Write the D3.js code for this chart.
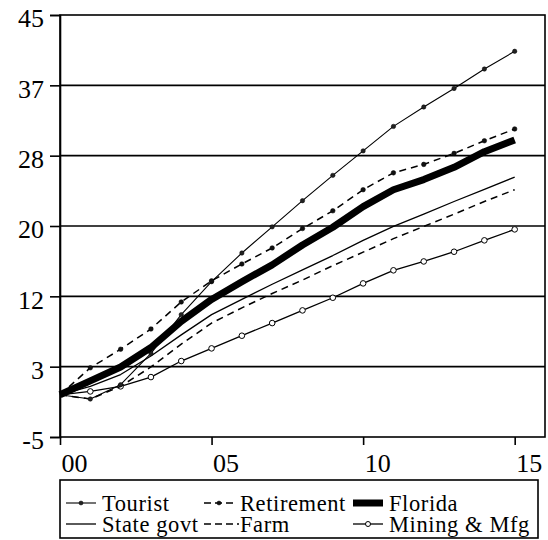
<!DOCTYPE html>
<html lang="en">
<head>
<meta charset="utf-8">
<title>Employment growth by sector</title>
<script src="https://cdn.jsdelivr.net/npm/d3@7"></script>
<style>
  body { margin: 0; background: #fff; font-family: "Times New Roman", "Liberation Serif", serif; }
  svg text { font-family: "Times New Roman", "Liberation Serif", serif !important; fill: #000; }
</style>
</head>
<body>
<script>
/* data, years 2000..2015 */
var years = d3.range(0, 16);
var tourist    = [0, -0.5, 1.2, 4.9, 9.5, 13.4, 16.8, 19.9, 23.0, 26.0, 28.9, 31.8, 34.1, 36.3, 38.6, 40.7];
var retirement = [0, 3.2, 5.4, 7.8, 11.0, 13.5, 15.5, 17.4, 19.7, 21.8, 24.3, 26.3, 27.3, 28.6, 30.1, 31.5];
var florida    = [0, 1.65, 3.3, 5.6, 8.7, 11.3, 13.4, 15.4, 17.75, 19.85, 22.3, 24.3, 25.5, 26.95, 28.8, 30.2];
var stateGovt  = [0, 1.0, 2.4, 4.6, 7.1, 9.5, 11.3, 13.1, 14.8, 16.5, 18.3, 19.95, 21.4, 22.9, 24.35, 25.8];
var farm       = [0, -0.5, 1.0, 3.3, 6.0, 8.5, 10.3, 12.0, 13.6, 15.3, 16.9, 18.5, 19.95, 21.4, 22.9, 24.3];
var mining     = [0, 0.4, 1.0, 2.1, 4.0, 5.5, 7.0, 8.5, 10.0, 11.5, 13.2, 14.75, 15.8, 16.95, 18.3, 19.6];

var xTickYears  = [0, 5, 10, 15];
var xTickLabels = ["00", "05", "10", "15"];
var yTickLabels = ["-5", "3", "12", "20", "28", "37", "45"];

var seriesNames = ["Tourist", "Retirement", "Florida", "State govt", "Farm", "Mining & Mfg"];

var w = 548, h = 540;
var plotLeft = 60, plotRight = 545, plotTop = 15, plotBottom = 437;
var serif = "Times New Roman, Liberation Serif, serif";

var svg = d3.select("body").append("svg")
  .attr("width", w)
  .attr("height", h);

var xScale = d3.scaleLinear().domain([0, 16]).range([plotLeft, plotRight]);
var yScale = d3.scaleLinear().domain([-5, 45]).range([plotBottom, plotTop]);

var yTicks = d3.range(7).map(function(i) { return -5 + i * 50 / 6; });

// gridlines
svg.append("g")
  .selectAll("line")
  .data(yTicks.slice(1, 6))
  .enter().append("line")
  .attr("x1", plotLeft).attr("x2", plotRight)
  .attr("y1", function(d) { return yScale(d); })
  .attr("y2", function(d) { return yScale(d); })
  .attr("stroke", "#000")
  .attr("stroke-width", 1.6);

// frame
svg.append("rect")
  .attr("x", plotLeft).attr("y", plotTop)
  .attr("width", plotRight - plotLeft).attr("height", plotBottom - plotTop)
  .attr("fill", "none")
  .attr("stroke", "#000")
  .attr("stroke-width", 1.6);

// y axis
var yAxis = d3.axisLeft(yScale)
  .tickValues(yTicks)
  .tickSize(10)
  .tickFormat(function(d, i) { return yTickLabels[i]; });

var gy = svg.append("g")
  .attr("transform", "translate(" + plotLeft + ",0)")
  .call(yAxis);
gy.select(".domain").attr("stroke-width", 1.6);
gy.selectAll(".tick line").attr("stroke-width", 1.6);
gy.selectAll(".tick text")
  .attr("x", -16)
  .attr("dy", "0.45em")
  .style("font-family", serif)
  .style("font-size", "26px");

// x axis
var xAxis = d3.axisBottom(xScale)
  .tickValues(xTickYears)
  .tickSize(8)
  .tickFormat(function(d, i) { return xTickLabels[i]; });

var gx = svg.append("g")
  .attr("transform", "translate(0," + plotBottom + ")")
  .call(xAxis);
gx.select(".domain").remove();
gx.selectAll(".tick line").attr("stroke-width", 1.6);
gx.selectAll(".tick text")
  .attr("text-anchor", "start")
  .attr("x", 1)
  .attr("y", 35)
  .attr("dy", 0)
  .style("font-family", serif)
  .style("font-size", "26px");

// series
var line = d3.line()
  .x(function(d, i) { return xScale(years[i]); })
  .y(function(d) { return yScale(d); });

function drawSeries(values, width, dash) {
  svg.append("path")
    .datum(values)
    .attr("d", line)
    .attr("fill", "none")
    .attr("stroke", "#000")
    .attr("stroke-width", width)
    .attr("stroke-linejoin", "round")
    .attr("stroke-dasharray", dash);
}

function drawDots(values, r, fill) {
  svg.append("g")
    .selectAll("circle")
    .data(values)
    .enter().append("circle")
    .attr("cx", function(d, i) { return xScale(years[i + 1]); })
    .attr("cy", function(d) { return yScale(d); })
    .attr("r", r)
    .attr("fill", fill)
    .attr("stroke", "#000")
    .attr("stroke-width", fill == "#fff" ? 1 : 0.5);
}

drawSeries(mining, 1.3, null);
drawDots(mining.slice(1), 2.8, "#fff");
drawSeries(farm, 1.5, "7,5");
drawSeries(stateGovt, 1.3, null);
drawSeries(tourist, 1.1, null);
drawDots(tourist.slice(1), 2.2, "#222");
drawSeries(retirement, 1.5, "7,5");
drawDots(retirement.slice(1), 2.3, "#111");
drawSeries(florida, 7, null);

// legend
var legend = svg.append("g");
legend.append("rect")
  .attr("x", 60).attr("y", 480)
  .attr("width", 478).attr("height", 58)
  .attr("fill", "#fff")
  .attr("stroke", "#000")
  .attr("stroke-width", 1.6);

var legendPos = [
  { x: 66, y: 503 }, { x: 204, y: 503 }, { x: 353, y: 503 },
  { x: 66, y: 524 }, { x: 204, y: 524 }, { x: 353, y: 524 }
];
var legendStyle = [
  { wd: 1.1, dash: null, dot: "#222" },
  { wd: 1.5, dash: "7,4", dot: "#111" },
  { wd: 7, dash: null, dot: null },
  { wd: 1.3, dash: null, dot: null },
  { wd: 1.5, dash: "7,4", dot: null },
  { wd: 1.3, dash: null, dot: "#fff" }
];

seriesNames.forEach(function(name, i) {
  var p = legendPos[i], s = legendStyle[i];
  var x2 = i == 4 ? p.x + 35 : p.x + 30;
  legend.append("line")
    .attr("x1", p.x).attr("x2", x2)
    .attr("y1", p.y).attr("y2", p.y)
    .attr("stroke", "#000")
    .attr("stroke-width", s.wd)
    .attr("stroke-dasharray", s.dash);
  if (s.dot) {
    legend.append("circle")
      .attr("cx", p.x + 15).attr("cy", p.y)
      .attr("r", s.dot == "#fff" ? 2.5 : 2)
      .attr("fill", s.dot)
      .attr("stroke", "#000")
      .attr("stroke-width", s.dot == "#fff" ? 1 : 0.5);
  }
  legend.append("text")
    .attr("x", p.x + 36)
    .attr("y", p.y + 8)
    .style("font-family", serif)
    .style("font-size", "22.5px")
    .style("letter-spacing", "0.6px")
    .text(name);
});
</script>
</body>
</html>
